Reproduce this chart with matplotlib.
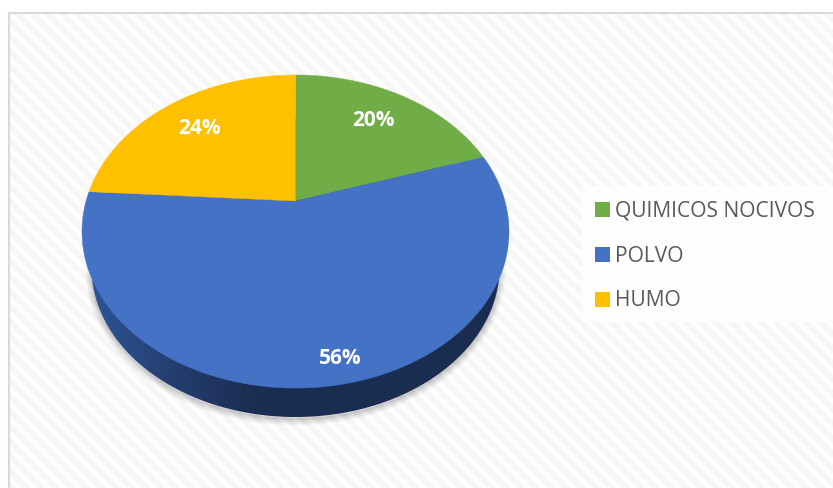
import numpy as np
import matplotlib
matplotlib.use("Agg")
import matplotlib.pyplot as plt
from matplotlib.patches import Patch, Polygon, Rectangle

categorias = ["QUIMICOS NOCIVOS", "POLVO", "HUMO"]
valores = [20, 56, 24]
colores = ["#70AD47", "#4472C4", "#FFC000"]

W, H = 833, 488
plt.rcParams["font.family"] = ["Open Sans", "DejaVu Sans"]

fig = plt.figure(figsize=(W / 100, H / 100), dpi=100)
ax = fig.add_axes([0, 0, 1, 1])

# fondo con rayas diagonales
xx, yy = np.meshgrid(np.arange(10, W), np.arange(14, H))
rayas = 0.5 + 0.5 * np.sin(2 * np.pi * (xx - yy) / 15)
ax.imshow(1 - 0.038 * np.clip(rayas * 1.3, 0, 1), cmap="gray", vmin=0, vmax=1,
          extent=(10, W, H, 14), aspect="auto", zorder=0)
ax.plot([9, 9, W], [H, 13, 13], color="#d9d9d9", lw=1.5, zorder=1)

# perspectiva del disco: el centro del pie cae arriba del centro de la elipse
cx, cy = 295.5, 201
a, b, k = 209.4, 150.6, 0.195


def disco(ang):
    u, v = np.sin(ang), np.cos(ang)
    d = 1 + k * v
    return cx + a * u / d, cy - b * v / d


# lado inferior (elipse mas chica y corrida hacia abajo)
t = np.linspace(0, 2 * np.pi, 400)
bx, by = 295.5 + 204 * np.cos(t), 267.5 + 149.5 * np.sin(t)
base = np.column_stack([bx, by])

# sombra difusa
for lw in [1, 2, 3.5, 5, 7, 9]:
    ax.add_patch(Polygon(base + [0, 2], closed=True, fc="none", ec="black",
                         lw=lw, alpha=0.035, zorder=2))

lado = Polygon(base, closed=True, fc="none", ec="none", zorder=3)
ax.add_patch(lado)
grad = np.interp(np.linspace(90, 505, 415), [90, 170, 260, 505], [0, 0.55, 1, 1])
c1, c2 = np.array([47, 85, 151]) / 255, np.array([26, 44, 80]) / 255
img = (c1[None, :] * (1 - grad[:, None]) + c2[None, :] * grad[:, None])[None, :, :]
im = ax.imshow(img, extent=(90, 505, 425, 110), aspect="auto", zorder=3)
im.set_clip_path(lado)

# rebanadas desde las 12 en sentido horario
bordes = np.cumsum([0] + valores) / sum(valores) * 2 * np.pi
for i, col in enumerate(colores):
    ang = np.linspace(bordes[i], bordes[i + 1], 200)
    x, y = disco(ang)
    pts = np.column_stack([np.r_[cx, x], np.r_[cy, y]])
    ax.add_patch(Polygon(pts, closed=True, fc=col, ec=col, lw=0.3, zorder=4))

pos_etiquetas = [(373, 121), (340, 358), (199, 129)]
for v, (tx, ty) in zip(valores, pos_etiquetas):
    ax.text(tx, ty, f"{v}%", color="white", fontsize=15, fontweight="bold",
            ha="center", va="center", zorder=5)

# leyenda
ax.add_patch(Rectangle((582, 186), W - 582, 136, fc="white", ec="none", alpha=0.85, zorder=2))
handles = [Patch(facecolor=c, edgecolor="none") for c in colores]
ax.legend(handles, categorias, loc="upper left", bbox_to_anchor=(595, 201),
          bbox_transform=ax.transData, frameon=False, fontsize=15.1, labelcolor="#595959",
          handlelength=0.72, handleheight=0.72, handletextpad=0.24, labelspacing=1.13,
          borderpad=0, borderaxespad=0)

ax.set_xlim(0, W)
ax.set_ylim(H, 0)
ax.axis("off")
fig.savefig("out.png", dpi=100)
